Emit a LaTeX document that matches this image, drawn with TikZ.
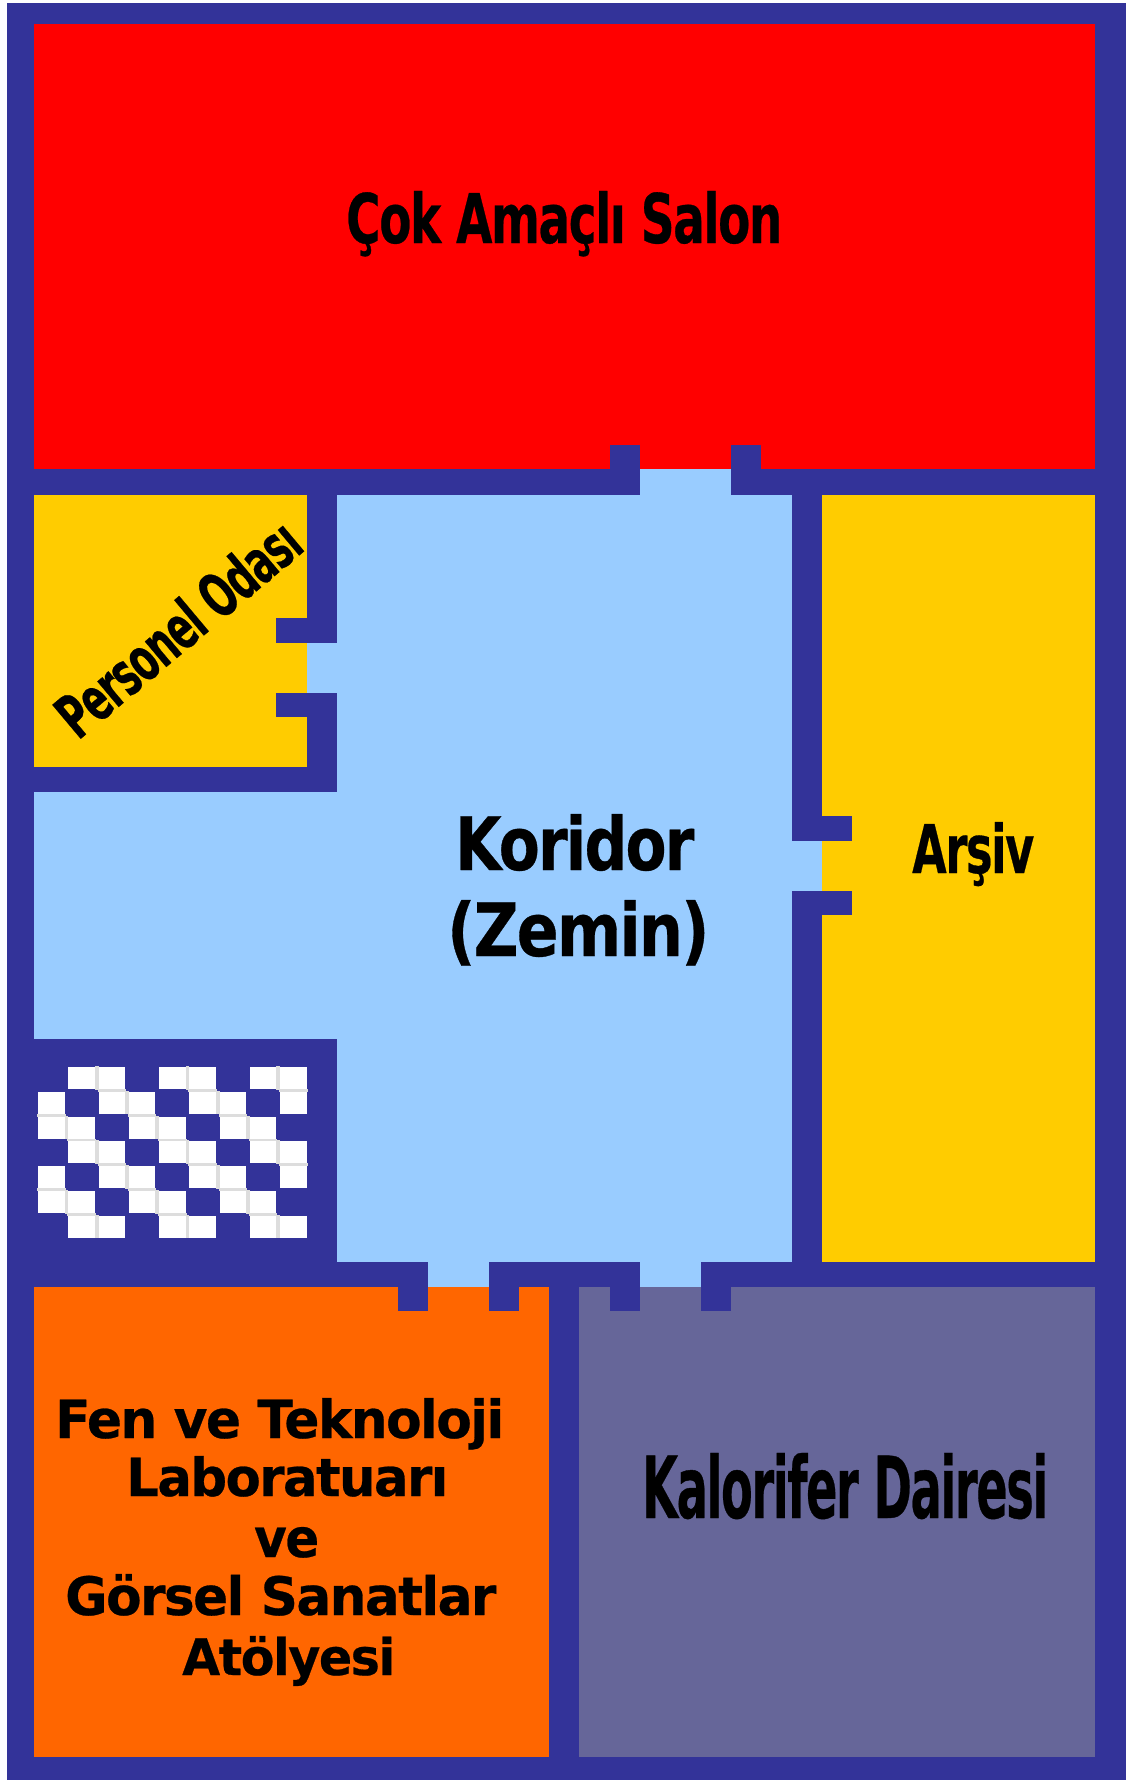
\documentclass[tikz,border=0pt]{standalone}
\usepackage{graphicx}
\usepackage{fontspec}
\setmainfont{DejaVu Sans}[BoldFont={DejaVu Sans Bold},BoldFeatures={LetterSpace=-3,FakeBold=0.5}]
\definecolor{wallblue}{HTML}{333399}
\definecolor{salonred}{HTML}{FF0000}
\definecolor{roomyellow}{HTML}{FFCC00}
\definecolor{floorblue}{HTML}{99CCFF}
\definecolor{laborange}{HTML}{FF6600}
\definecolor{boilergrey}{HTML}{666699}
\definecolor{tilegrey}{HTML}{DDDDDD}
\tikzset{
  wall/.style={fill=wallblue},
  roomlabel/.style={anchor=base west,inner sep=0pt,font=\bfseries,text=black}
}
\newcommand{\fitlabel}[3]{\resizebox{#1pt}{#2pt}{#3}}
\begin{document}
\begin{tikzpicture}[x=1pt,y=-1pt]
        \useasboundingbox (0,0) rectangle (1126,1780);
        \fill[wall] (7,3) rectangle (1126,1780);
        \fill[salonred] (34,24) rectangle (1095,469);
        \fill[roomyellow] (34,495) rectangle (307,767);
        \fill[roomyellow] (822,495) rectangle (1095,1262);
        \fill[laborange] (34,1287) rectangle (549,1757);
        \fill[boilergrey] (579,1287) rectangle (1095,1757);
        \fill[floorblue] (337,495) rectangle (792,1262);
        \fill[floorblue] (34,792) rectangle (337,1039);
        \fill[floorblue] (640,469) rectangle (731,495);
        \fill[floorblue] (307,643) rectangle (337,693);
        \fill[floorblue] (792,841) rectangle (822,891);
        \fill[floorblue] (428,1262) rectangle (489,1287);
        \fill[floorblue] (640,1262) rectangle (701,1287);
        \fill[wall] (610,445) rectangle (640,469);
        \fill[wall] (731,445) rectangle (761,469);
        \fill[wall] (276,618) rectangle (307,643);
        \fill[wall] (276,693) rectangle (307,717);
        \fill[wall] (822,816) rectangle (852,841);
        \fill[wall] (822,891) rectangle (852,915);
        \fill[wall] (398,1287) rectangle (428,1311);
        \fill[wall] (489,1287) rectangle (519,1311);
        \fill[wall] (610,1287) rectangle (640,1311);
        \fill[wall] (701,1287) rectangle (731,1311);
        \foreach \r in {0,...,6} {
          \foreach \c in {0,...,8} {
            \pgfmathtruncatemacro\m{mod(\c-\r+9,3)}
            \pgfmathsetmacro\cx{38+30.25*\c}
            \pgfmathsetmacro\cy{1067+24.8*\r}
            \ifnum\m=0\else
              \fill[white] (\cx,\cy) rectangle +(26.5,22);
              \ifnum\m=1
                \ifnum\c<8
                  \fill[tilegrey] (\cx+26.5,\cy-1) rectangle +(3.75,23.5);
                \fi
              \else
                \ifnum\r<6
                  \fill[tilegrey] (\cx-1,\cy+22) rectangle +(28.5,2.8);
                \fi
              \fi
            \fi
          }
        }
        \node[roomlabel] (salon) at (346,243) {\fitlabel{436}{52}{Çok Amaçlı Salon}};
        \node[roomlabel,rotate=40] (personel) at (78,741) {\fitlabel{298}{46}{Personel Odası}};
        \node[roomlabel] (koridor) at (455,870) {\fitlabel{239}{56}{Koridor}};
        \node[roomlabel] (zemin) at (447,956) {\fitlabel{262}{56}{(Zemin)}};
        \node[roomlabel] (arsiv) at (912,873) {\fitlabel{122}{51}{Arşiv}};
        \node[roomlabel] (kalorifer) at (642,1518) {\fitlabel{406}{65}{Kalorifer Dairesi}};
        \node[roomlabel] (fen) at (55,1438) {\fitlabel{449}{40}{Fen ve Teknoloji}};
        \node[roomlabel] (lab) at (126,1496) {\fitlabel{322}{40}{Laboratuarı}};
        \node[roomlabel] (ve) at (254,1557) {\fitlabel{65}{30}{ve}};
        \node[roomlabel] (gorsel) at (65,1615) {\fitlabel{431}{41}{Görsel Sanatlar}};
        \node[roomlabel] (atolye) at (182,1675) {\fitlabel{213}{39}{Atölyesi}};
      \end{tikzpicture}
\end{document}
